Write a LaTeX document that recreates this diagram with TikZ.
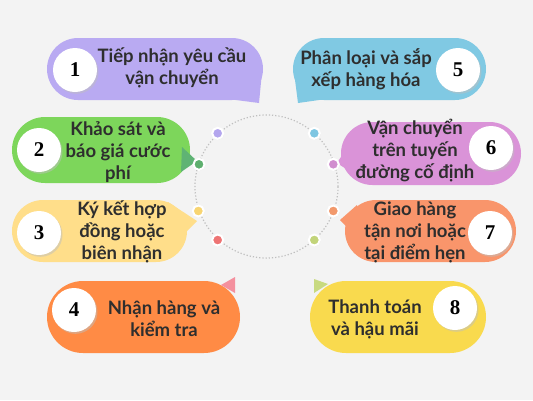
\documentclass[tikz,border=0pt]{standalone}
\usepackage{fontspec}
\setmainfont{Lato}
\newfontfamily\numfont{Liberation Serif}
\definecolor{bg}{HTML}{F3F3F3}
\definecolor{cA}{HTML}{B9AAF2}
\definecolor{cB}{HTML}{7DD65B}
\definecolor{cBt}{HTML}{5FB374}
\definecolor{cC}{HTML}{FFDE8A}
\definecolor{cD}{HTML}{FF8B45}
\definecolor{cDt}{HTML}{F4909E}
\definecolor{cE}{HTML}{80C9E3}
\definecolor{cF}{HTML}{DA93D8}
\definecolor{cG}{HTML}{F9956B}
\definecolor{cH}{HTML}{F9DA4E}
\definecolor{cHt}{HTML}{C8DA80}
\definecolor{dA}{HTML}{B4A6EE}
\definecolor{dB}{HTML}{5EAF6E}
\definecolor{dC}{HTML}{F8D572}
\definecolor{dD}{HTML}{EE7474}
\definecolor{dE}{HTML}{7EC6E2}
\definecolor{dF}{HTML}{D18ECF}
\definecolor{dG}{HTML}{F2996C}
\definecolor{dH}{HTML}{C2D47A}
\definecolor{txt}{HTML}{2E2E2E}
\tikzset{
  bubble/.style={rectangle, draw=none, inner sep=0pt},
  label/.style={align=center, text=txt, font=\fontsize{18.5}{22}\selectfont\bfseries},
  numcircle/.style={circle, fill=white, minimum size=44pt, inner sep=0pt, font=\numfont\fontsize{21}{21}\selectfont\bfseries, text=black,
     preaction={fill=black!25, opacity=0.5, transform canvas={shift={(1.5pt,-1.8pt)}}}},
  dot/.style={circle, fill=#1, draw=white, line width=2pt, minimum size=11pt, inner sep=0pt,
     preaction={fill=black!20, opacity=0.4, transform canvas={shift={(0.8pt,-0.8pt)}}}},
}
\begin{document}
\begin{tikzpicture}[x=1pt,y=-1pt]
\fill[bg] (0,0) rectangle (533,400);
\useasboundingbox (0,0) rectangle (533,400);
% central dotted ring
\node[circle, draw=black!25, dotted, line width=1.2pt, minimum size=143pt, inner sep=0pt] (ring) at (266.5,186.5) {};
% bubble 1
\node[bubble, fill=cA, minimum width=216pt, minimum height=62pt, rounded corners=31pt] (b1) at (155,69) {};
\fill[cA] (228,99) -- (262,72) -- (259,103) -- cycle;
% bubble 2
\node[bubble, fill=cB, minimum width=178pt, minimum height=66pt, rounded corners=33pt] (b2) at (101,150) {};
\fill[cBt] (182,147) -- (197,161) -- (181,172) -- cycle;
% bubble 3
\node[bubble, fill=cC, minimum width=175pt, minimum height=62pt, rounded corners=31pt] (b3) at (99.5,231) {};
\fill[cC] (168,202) -- (197,221) -- (178,240) -- cycle;
% bubble 4
\node[bubble, fill=cD, minimum width=193pt, minimum height=72pt, rounded corners=36pt] (b4) at (143.5,317) {};
\fill[cDt] (221,285) -- (235,277) -- (235,293) -- cycle;
% bubble 5
\node[bubble, fill=cE, minimum width=193pt, minimum height=62pt, rounded corners=31pt] (b5) at (389.5,69) {};
\fill[cE] (294,72) -- (298,103) -- (326,99) -- cycle;
% bubble 6
\node[bubble, fill=cF, minimum width=180pt, minimum height=63pt, rounded corners=31.5pt] (b6) at (431,153.5) {};
\fill[cF] (352,140) -- (337,163) -- (360,178) -- cycle;
% bubble 7
\node[bubble, fill=cG, minimum width=171pt, minimum height=62pt, rounded corners=31pt] (b7) at (430.5,231) {};
\fill[cG] (357,205) -- (340,220) -- (360,240) -- cycle;
% bubble 8
\node[bubble, fill=cH, minimum width=176pt, minimum height=72pt, rounded corners=36pt] (b8) at (398,317) {};
\fill[cHt] (314,279) -- (314,293) -- (328,284) -- cycle;
% number circles
\node[numcircle] (n1) at (75,70) {1};
\node[numcircle] (n2) at (39,150) {2};
\node[numcircle] (n3) at (39,233) {3};
\node[numcircle] (n4) at (74,310) {4};
\node[numcircle] (n5) at (458,70) {5};
\node[numcircle] (n6) at (491,148) {6};
\node[numcircle] (n7) at (490,233) {7};
\node[numcircle] (n8) at (455,308) {8};
% labels
\node[label] (t1) at (172,68) {Tiếp nhận yêu cầu\\vận chuyển};
\node[label] (t2) at (118,152) {Khảo sát và\\báo giá cước\\phí};
\node[label] (t3) at (122,232) {Ký kết hợp\\đồng hoặc\\biên nhận};
\node[label] (t4) at (164,319) {Nhận hàng và\\kiểm tra};
\node[label] (t5) at (366,69) {Phân loại và sắp\\xếp hàng hóa};
\node[label] (t6) at (415,151) {Vận chuyển\\trên tuyến\\đường cố định};
\node[label] (t7) at (415,232) {Giao hàng\\tận nơi hoặc\\tại điểm hẹn};
\node[label] (t8) at (375,319) {Thanh toán\\và hậu mãi};
% dots on ring
\node[dot=dA] (d1) at (217.7,133.3) {};
\node[dot=dB] (d2) at (199,164.3) {};
\node[dot=dC] (d3) at (198.3,211) {};
\node[dot=dD] (d4) at (217.7,240) {};
\node[dot=dE] (d5) at (314.3,133.3) {};
\node[dot=dF] (d6) at (333.3,164.3) {};
\node[dot=dG] (d7) at (333.3,211) {};
\node[dot=dH] (d8) at (314.3,240) {};
\end{tikzpicture}
\end{document}
